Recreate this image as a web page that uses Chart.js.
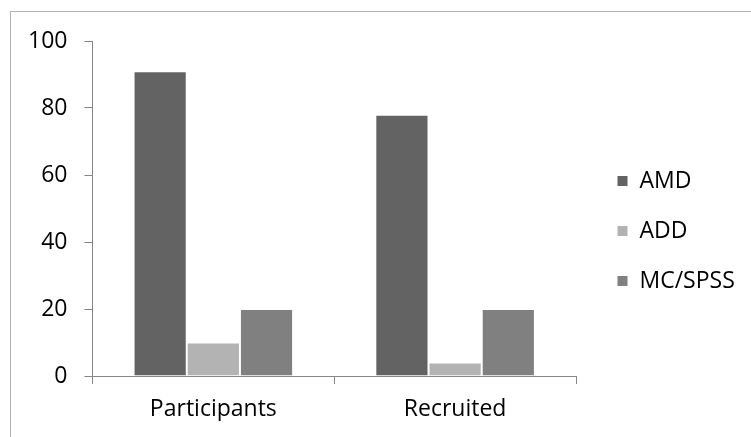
<!DOCTYPE html>
<html lang="en">
<head>
    <meta charset="UTF-8">
    <title>Participants vs Recruited</title>
    <script src="https://cdn.jsdelivr.net/npm/chart.js@4/dist/chart.umd.min.js"></script>
    <style>
        body {
            margin: 0;
            background-color: white;
            font-family: 'Open Sans', sans-serif;
        }
        .frame {
            position: absolute;
            left: 10px;
            top: 11px;
            width: 760px;
            height: 450px;
            border-left: 1px solid #b4b4b4;
            border-top: 1px solid #b4b4b4;
        }
        .wrap {
            position: absolute;
            left: 0;
            top: 0;
            width: 751px;
            height: 437px;
        }
    </style>
</head>
<body>
    <div class="frame"></div>
    <div class="wrap"><canvas id="chart"></canvas></div>

    <script>
        const categories = ['Participants', 'Recruited'];
        const amd = [91, 78];
        const add = [10, 4];
        const mcSpss = [20, 20];
        const yTicks = [0, 20, 40, 60, 80, 100];

        const axisColor = '#868686';
        const font = { family: "'Open Sans', sans-serif", size: 23 };

        // push the legend a little further away from the plot
        const legendShift = {
            id: 'legendShift',
            afterLayout(chart) {
                chart.legend.left += 14;
                chart.legend.right += 14;
            }
        };

        function draw() {
            new Chart(document.getElementById('chart'), {
                type: 'bar',
                data: {
                    labels: categories,
                    datasets: [
                        { label: 'AMD', data: amd, backgroundColor: '#636363' },
                        { label: 'ADD', data: add, backgroundColor: '#b3b3b3' },
                        { label: 'MC/SPSS', data: mcSpss, backgroundColor: '#808080' }
                    ]
                },
                plugins: [legendShift],
                options: {
                    responsive: true,
                    maintainAspectRatio: false,
                    animation: false,
                    datasets: {
                        bar: {
                            categoryPercentage: 0.66,
                            barPercentage: 1.0,
                            borderColor: '#ffffff',
                            borderWidth: 1
                        }
                    },
                    layout: {
                        padding: { left: 11, top: 41, right: 0, bottom: 16 }
                    },
                    plugins: {
                        tooltip: { enabled: false },
                        legend: {
                            position: 'right',
                            labels: {
                                color: '#000',
                                font: font,
                                boxWidth: 11,
                                boxHeight: 11,
                                padding: 27
                            }
                        }
                    },
                    scales: {
                        x: {
                            afterFit: function (scale) {
                                // keep the plot clear of the legend, as in the original
                                scale.paddingLeft = 0;
                                scale.paddingRight = 175;
                                scale.height = 45;
                            },
                            grid: {
                                drawOnChartArea: false,
                                drawTicks: true,
                                tickLength: 8,
                                color: axisColor,
                                offset: true
                            },
                            border: { color: axisColor },
                            ticks: { color: '#000', font: font, padding: 12 }
                        },
                        y: {
                            min: 0,
                            max: 100,
                            afterBuildTicks: function (scale) {
                                scale.ticks = yTicks.map(v => ({ value: v }));
                            },
                            grid: {
                                drawOnChartArea: false,
                                drawTicks: true,
                                tickLength: 8,
                                color: axisColor
                            },
                            border: { color: axisColor },
                            ticks: { color: '#000', font: font, padding: 17 }
                        }
                    }
                }
            });
        }

        document.fonts.load("23px 'Open Sans'").then(draw, draw);
    </script>
</body>
</html>
